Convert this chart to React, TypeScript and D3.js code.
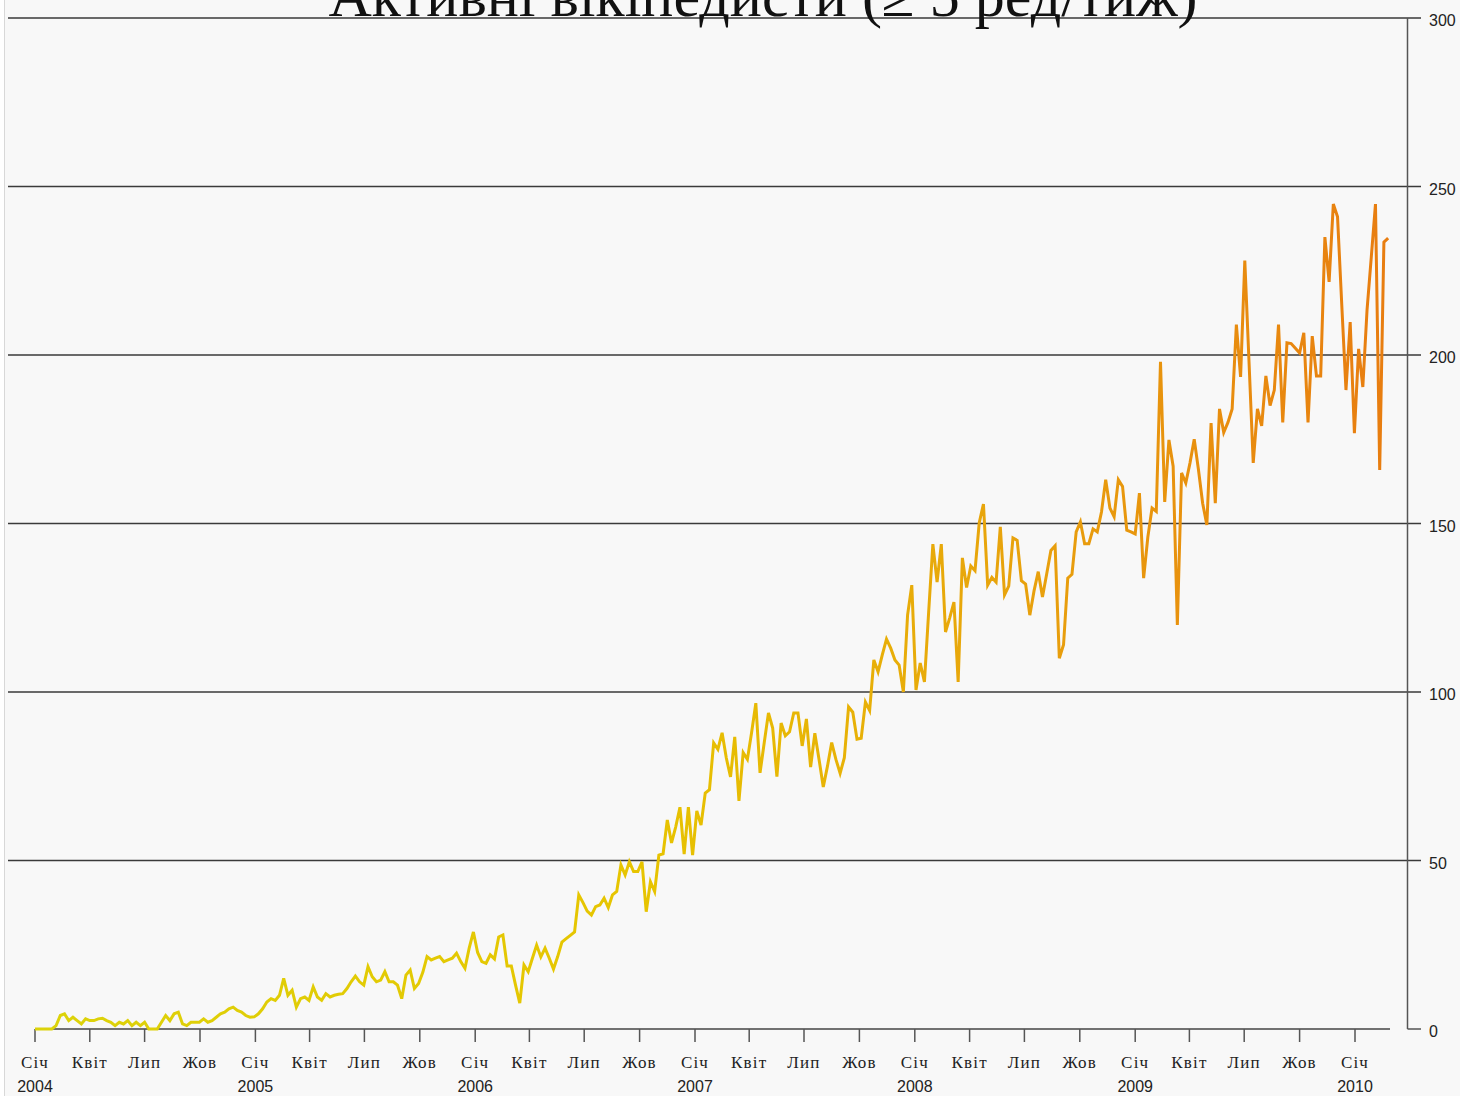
import React from "react";
import * as d3 from "d3";

// Weekly counts of active Wikipedians (>= 5 edits/week)
const weeks2004 = [0, 0, 0, 0, 0, 1, 4, 4.5, 2.5, 3.5, 2.5, 1.5, 3, 2.5, 2.5, 3, 3.2, 2.5, 2, 1, 2, 1.5, 2.5, 1, 2, 1, 2, 0, 0, 0, 2, 4, 2.5, 4.5, 5, 1.5, 1, 2, 2, 2, 3, 2, 2.5, 3.5, 4.5, 5, 6, 6.5, 5.5, 5, 4, 3.5];
const weeks2005 = [3.6, 4.5, 6, 8, 9, 8.5, 10, 15, 10, 11.5, 6.5, 9, 9.5, 8.5, 12.5, 9.5, 8.5, 10.5, 9.5, 10, 10.3, 10.5, 12, 14, 15.7, 14, 13, 18.5, 15.5, 14, 14.5, 17, 14, 14, 13, 9, 16, 17.5, 12, 13.5, 16.8, 21.5, 20.5, 21, 21.5, 20, 20.5, 21, 22.5, 20, 18, 24];
const weeks2006 = [28.8, 22.7, 20, 19.5, 22, 20.8, 27.3, 27.9, 18.7, 18.7, 13, 7.7, 19, 17, 21, 24.9, 21.4, 24, 21, 17.8, 21.5, 25.8, 26.8, 27.8, 28.8, 39.8, 37.5, 35, 33.8, 36.3, 36.8, 38.8, 36, 39.8, 40.8, 48.7, 45.7, 49.6, 46.7, 46.7, 49.6, 34.8, 43.7, 40.8, 51.6, 52, 62, 55.2, 60, 65.8, 51.9, 65.8];
const weeks2007 = [51.6, 64.7, 60.5, 70, 71, 84.9, 83, 87.9, 80.4, 74.8, 86.7, 67.7, 82, 80, 88, 96.7, 76, 85, 93.8, 89.3, 74.9, 90.8, 87, 88.2, 93.8, 93.8, 84, 92, 77.7, 87.8, 80, 71.8, 78, 85, 80, 75.9, 80.5, 95.6, 94, 86, 86.3, 97, 94.5, 109.5, 106, 111, 115.7, 113, 109.5, 108, 100, 122.8];
const weeks2008 = [131.7, 100.6, 108.6, 103, 123.7, 143.9, 132.6, 143.9, 117.8, 122, 126.7, 103, 139.8, 131, 137.4, 136, 150.2, 155.8, 131.7, 134, 132.6, 149, 128.8, 131.4, 145.7, 145, 133, 132, 122.8, 130, 135.7, 128.2, 135, 142, 143.4, 110, 114, 133.8, 134.9, 147.5, 150.5, 144, 144, 148.4, 147.5, 153.4, 163, 154.6, 152, 163, 161, 148];
const weeks2009 = [147.5, 146.9, 159, 133.8, 146, 154.6, 153.6, 198, 156.4, 174.8, 167, 119.9, 165, 162, 168, 175, 166, 156, 149.6, 179.8, 156, 184, 177, 180, 184, 209, 193.5, 228, 198, 168, 184, 179, 193.8, 185, 189.6, 209, 180, 203.6, 203.4, 202, 200.6, 206.6, 180, 205.6, 193.8, 193.8, 235, 221.7, 244.8, 241, 215, 189.6];
const weeks2010 = [209.8, 176.8, 201.8, 190.5, 213.4, 229, 244.8, 165.9, 233.5, 234.7];

const monthLabels = ["Січ", "Квіт", "Лип", "Жов"];
const yTicks = [0, 50, 100, 150, 200, 250, 300];
const title = "Активні вікіпедисти (≥ 5 ред/тиж)";

const W = 1460;
const H = 1096;

export default function App() {
  const values = [...weeks2004, ...weeks2005, ...weeks2006, ...weeks2007, ...weeks2008, ...weeks2009, ...weeks2010];
  const start = new Date(2004, 0, 1);
  const data = values.map((v, i) => ({ date: d3.timeDay.offset(start, i * 7), value: v }));

  const x = d3.scaleTime().domain([new Date(2004, 0, 1), new Date(2010, 0, 1)]).range([35, 1355]);
  const y = d3.scaleLinear().domain([0, 300]).range([1029, 18]);

  const line = d3
    .line<{ date: Date; value: number }>()
    .x((d) => x(d.date))
    .y((d) => y(d.value));

  const ticks = d3.timeMonth.range(new Date(2004, 0, 1), new Date(2010, 1, 1), 3);
  const xEnd = x(data[data.length - 1].date);

  return (
    <svg width={W} height={H} style={{ position: "absolute", left: 0, top: 0 }}>
      <defs>
        <linearGradient id="lineGrad" gradientUnits="userSpaceOnUse" x1={x(start)} x2={xEnd} y1={0} y2={0}>
          <stop offset="0" stopColor="#dcd30a" />
          <stop offset="0.45" stopColor="#e7c400" />
          <stop offset="0.72" stopColor="#e8a30c" />
          <stop offset="1" stopColor="#e87d10" />
        </linearGradient>
      </defs>
      <rect x={0} y={0} width={W} height={H} fill="#ffffff" />
      <rect x={4.5} y={0} width={W - 4.5} height={H} fill="#f8f8f8" />
      <line x1={4.5} x2={4.5} y1={0} y2={H} stroke="#d8d8d8" strokeWidth={1} />

      {yTicks.filter((t) => t > 0).map((t) => (
        <line key={t} x1={8} x2={1421} y1={y(t)} y2={y(t)} stroke="#3a3a3a" strokeWidth={1.5} />
      ))}
      {/* right axis */}
      <line x1={1407.5} x2={1407.5} y1={y(300)} y2={y(0)} stroke="#555" strokeWidth={1.5} />
      <line x1={1407.5} x2={1421} y1={y(0)} y2={y(0)} stroke="#555" strokeWidth={1.5} />
      {yTicks.map((t) => (
        <text key={t} x={1429} y={y(t) + 8} fontFamily="'Liberation Sans', Arial, sans-serif" fontSize={16} fill="#222">
          {t}
        </text>
      ))}

      {/* bottom axis */}
      <line x1={35} x2={1390} y1={y(0)} y2={y(0)} stroke="#444" strokeWidth={1.5} />
      {ticks.map((d, i) => (
        <g key={i} transform={`translate(${x(d)},0)`}>
          <line y1={y(0)} y2={1042} stroke="#555" strokeWidth={1.5} />
          <text y={1068} textAnchor="middle" fontFamily="'Liberation Serif', 'Times New Roman', serif" fontSize={17} letterSpacing={1.2} fill="#222">
            {monthLabels[d.getMonth() / 3]}
          </text>
          {d.getMonth() === 0 && (
            <text y={1092} textAnchor="middle" fontFamily="'Liberation Sans', Arial, sans-serif" fontSize={16} fill="#222">
              {d.getFullYear()}
            </text>
          )}
        </g>
      ))}

      <path d={line(data) || ""} fill="none" stroke="url(#lineGrad)" strokeWidth={3} />

      <text x={763} y={16} textAnchor="middle" fontFamily="'Liberation Serif', 'Times New Roman', serif" fontSize={60} fill="#111">
        {title}
      </text>
    </svg>
  );
}
